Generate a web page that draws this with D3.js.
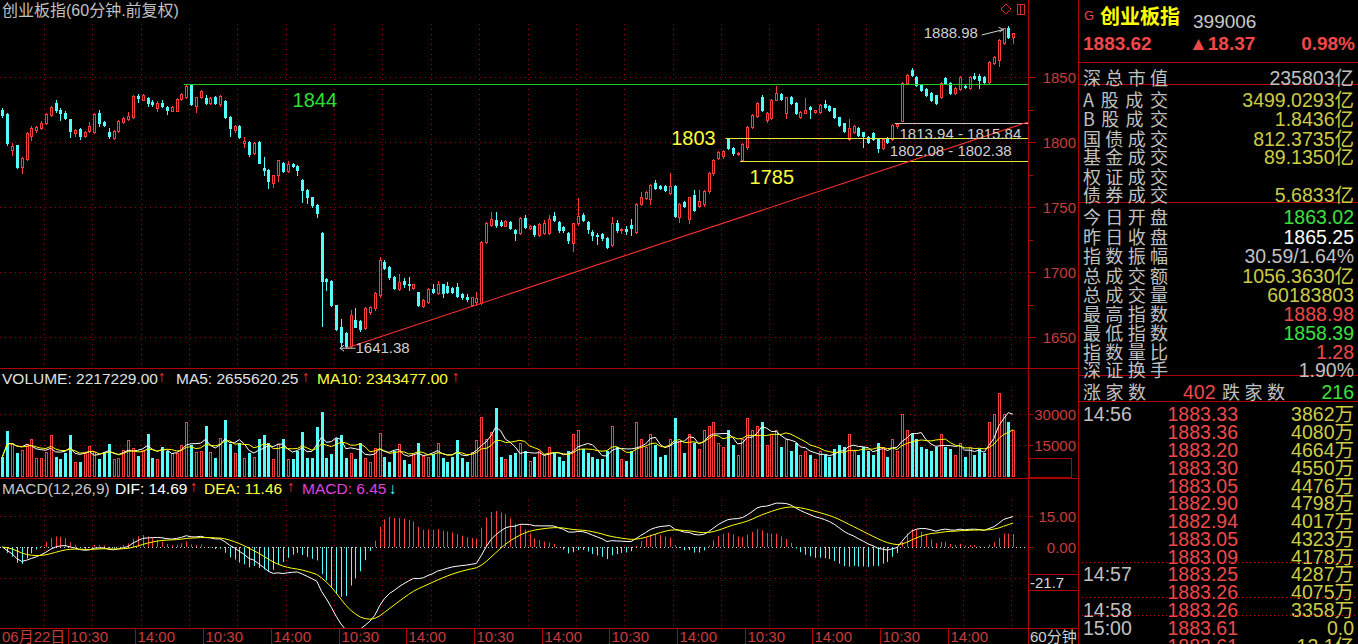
<!DOCTYPE html>
<html><head><meta charset="utf-8">
<script src="https://cdn.jsdelivr.net/npm/d3@7/dist/d3.min.js"></script>
<style>html,body{margin:0;padding:0;background:#000;overflow:hidden}svg{display:block}</style>
</head><body>
<svg id="chart" width="1358" height="644"></svg>
<script>
// ---------------- DATA (60-minute bars) ----------------
const opens=[1824.5,1821.5,1794,1797.5,1781,1787,1805,1809,1811,1814.5,
1821,1830,1825,1822,1817.5,1807,1810,1804.5,1808.5,1807.5,
1822,1815.5,1807.5,1803,1808.5,1815.5,1817.5,1819,1835.5,1832.5,
1834,1831,1826.5,1830,1827,1824,1824,1833,1834.5,1844,
1827.5,1834.5,1834,1830,1834.5,1829,1831.5,1819,1809,1812,
1799,1800,1791.5,1800,1780,1778.5,1768.5,1774.5,1784,1777.5,
1783,1781.5,1771,1763,1757.5,1751.5,1730,1694.5,1693,1674.5,
1658,1653,1643,1663,1662,1657,1669,1672,1682,1707.5,
1704,1696,1687,1693,1691,1688,1684.5,1674,1677,1687,
1683.5,1690.5,1689,1687.5,1688.5,1683,1680.5,1674.5,1677,1676,
1723,1736,1740,1738.5,1735.5,1738.5,1732,1730,1741.5,1734,
1735,1728.5,1730,1730,1743,1738.5,1734.5,1730,1722.5,1737.5,
1744,1738.5,1731,1728.5,1729,1726,1720.5,1737.5,1732,1733,
1736,1731,1752,1757,1756,1768.5,1766,1766,1761,1766,
1742.5,1754,1741,1759,1750.5,1752,1762,1776,1787.5,1789,
1802.4,1795.4,1790.8,1786,1796,1811.5,1820,1834.6,1817,1818.5,
1832.3,1837,1822.3,1834.6,1830,1819.2,1822.3,1827,1823,1823,
1829,1827.7,1826,1819,1814.6,1802.3,1807.7,1810.8,1807.7,1803.8,
1807,1802.3,1795.4,1803,1802,1812,1815.84,1845.4,1855.4,1850,
1843.8,1840.8,1837.7,1836.2,1834.6,1849.2,1845.4,1837.7,1840.8,1843.1,
1841.5,1850.8,1850.8,1850,1846.2,1860.8,1863.02,1876,1887.5,1881];
const highs=[1826,1822,1799,1798,1788.5,1808,1812,1812.5,1816,1822,
1828,1832,1826,1824,1818,1810,1811,1808.5,1815.5,1822,
1824.5,1816,1811,1809,1817,1819,1823,1836,1837,1837,
1835,1832,1831.5,1832,1828,1828,1834,1838,1844.4,1844.2,
1835,1840,1836,1835,1835.5,1836,1832,1820,1813,1813,
1804,1801,1800,1800.5,1788.5,1779,1775,1786.5,1785,1785.5,
1784,1782,1771.5,1764,1758,1752,1730.5,1695.5,1693.5,1675,
1664,1654,1670.5,1672,1663,1673,1674,1685,1711.5,1709,
1705,1697,1698.5,1695.5,1696,1691,1685,1679,1688,1691,
1693,1691,1692,1688.5,1691.5,1684,1683,1681,1684.5,1724,
1738.5,1746,1746,1740,1740,1739.5,1733,1742.5,1744,1736,
1736,1738,1740,1744,1746,1739.5,1735,1731,1738,1757,
1745.5,1739,1732,1730,1730,1727,1742,1740,1734,1735,
1741,1753,1761.5,1762.5,1768,1771,1767,1767,1776,1767,
1753,1755,1758,1763,1763,1763,1777,1787,1793,1794,
1803,1796,1792,1799,1812,1821.5,1831,1836,1823,1833,
1843,1838,1835,1835.5,1830.5,1823.5,1834,1827.5,1825,1829,
1832.3,1828.5,1826.5,1819.5,1815,1817.7,1813,1811.5,1808,1804.5,
1808,1803,1803,1803.5,1813.5,1813.94,1846,1852,1857,1850.5,
1844.5,1841.5,1838.5,1836.5,1846,1850,1846,1842,1850.5,1845,
1850.8,1853,1852,1851,1862,1866.5,1879,1888,1888.98,1884];
const lows=[1819,1798,1790,1780,1776,1786,1801.5,1808,1810,1814,
1820,1823,1817,1818,1804,1805,1802,1803.5,1808,1807,
1812.5,1812,1803,1802.5,1808,1815,1817,1818.5,1831,1832,
1827.5,1828,1824,1827,1821.5,1823.5,1823.5,1832.5,1834,1828.5,
1823,1834,1829,1829,1829,1828,1818.5,1804.5,1808,1803,
1796,1789,1791,1783.5,1774.5,1764.5,1765.5,1770,1777,1777,
1781,1774.5,1754,1753,1750,1742.5,1658.5,1686,1674,1655.5,
1643,1641.38,1642,1657.5,1655,1656.5,1668,1671,1681,1702,
1695,1687,1686,1688.5,1686,1687,1674,1673,1676.5,1684,
1683,1680.5,1684,1684,1681,1679,1677.5,1674,1674.5,1675.5,
1722.5,1735,1734.5,1735,1735,1733,1724.5,1729.5,1734,1733,
1727.5,1728,1729.5,1729.5,1739,1731,1731,1722.5,1716,1736.5,
1739,1730,1724.5,1721.5,1725,1718.5,1720,1731,1730,1729,
1728.5,1730,1751.5,1756,1752.5,1764,1763.5,1762,1760,1742.5,
1738.5,1750,1738,1747,1750,1751,1761,1775,1787,1788,
1795,1790,1790,1785.4,1795,1811,1819,1824,1815.4,1818,
1832,1832.5,1818.5,1829,1821.5,1818.5,1822,1818.5,1822.5,1822.5,
1826.5,1824,1818.5,1812.5,1808,1801.5,1807,1805,1796.2,1799,
1801.5,1792.3,1795,1799,1801.5,1810.5,1815.84,1845,1851,1843,
1839.5,1835.5,1831.5,1829.2,1834,1845,1837,1837,1840,1841.5,
1841,1848.5,1841.5,1845.5,1845.5,1860,1858.39,1875.5,1880,1876];
const closes=[1821,1799,1797,1781,1788,1807,1811,1811.5,1815,1821.5,
1827,1825,1822,1818.5,1808.5,1809,1804.5,1807.5,1812.5,1821.5,
1814.5,1813,1804.5,1808.5,1816,1818.5,1820,1835.5,1834,1836,
1830,1829,1830,1827.5,1824.5,1827,1833,1837,1843,1829,
1834.5,1839,1830,1834,1830,1835.5,1819,1811,1812,1804,
1801,1791,1799,1784,1778.5,1770,1774.5,1786,1777.5,1783,
1781.5,1778.5,1763,1757.5,1751.5,1745.5,1693,1693,1674.5,1656,
1646,1643,1667,1658,1656,1672,1673,1684,1709,1703,
1696,1688,1692.5,1691,1690,1690.5,1674.5,1678.5,1687,1684.5,
1690.5,1683.5,1685,1684.5,1681.5,1680.5,1679,1680.5,1680,1723,
1737.5,1740.5,1736,1736,1739,1734,1730,1741.5,1734.5,1735,
1729,1737,1737.5,1740.5,1740,1732,1732,1724.5,1737.5,1743,
1740,1733,1728.5,1728,1726,1719,1737.5,1732,1733,1731.5,
1734,1752,1757.5,1761.5,1767,1764.5,1764.5,1763,1766,1743,
1752,1751,1757.5,1748,1754.5,1762,1776,1786,1792,1793,
1795.5,1791.5,1791.5,1798.5,1811.5,1820.8,1830,1824.6,1822.3,1832.3,
1837.7,1833,1834.6,1830,1822.3,1823,1824.6,1825.4,1824.6,1828.5,
1827,1824.6,1819,1813,1808.5,1810.8,1812.3,1805.4,1804.6,1800,
1802.3,1795.4,1802.3,1800,1813,1813.5,1845.4,1851.5,1851.5,1843.8,
1840,1836.2,1832.3,1830,1845.4,1845.4,1837.7,1841.5,1850,1842.3,
1850,1849.2,1847.7,1846.2,1861.5,1865.25,1878.5,1887.7,1881,1883.62];
// volume in hundreds (axis X100)
const volumes=[9270,21600,15700,10900,12480,15200,17760,8800,8800,11360,
19680,9270,8160,10900,19680,6560,6560,10900,14560,11360,
8160,11360,15200,8160,8800,12480,17280,13280,9760,12480,
20000,8800,8160,14080,12000,10900,10900,14880,25760,14880,
11360,12000,24000,11360,8480,18400,26880,15200,10900,15700,
8480,10900,9270,17760,19680,15700,8160,15200,17760,8160,
8160,12000,21280,8800,8800,23680,30880,8800,10400,18080,
19680,8480,10900,8160,15700,8800,6880,13280,20480,9270,
6880,12000,15200,7680,5600,10400,15700,9760,9270,10400,
15700,8480,6880,9270,17280,8480,6880,11360,17280,28480,
17760,21280,32480,9000,8000,10000,11000,16000,12000,7000,
9000,12000,10000,14000,11000,9000,7000,12000,20000,22000,
13000,11000,9000,8000,8000,12000,24000,14000,8000,7000,
12000,26000,18000,14000,20000,15000,9000,10000,18000,28000,
17000,11000,20000,16000,13000,22000,24000,26000,16000,14000,
22000,15000,10000,18000,28000,22000,24000,26000,15000,20000,
22000,14000,18000,12000,16000,10000,12000,10000,8000,12000,
10000,9000,13000,15000,14000,20000,12000,10000,14000,12000,
10000,16000,14000,9000,18000,12000,30000,22000,20000,18000,
14000,13000,12000,14000,20000,14000,13000,10000,16000,9000,
14000,10000,13000,11000,26000,30000,40000,30000,26000,22172];
const xTickLabels=["06月22日","10:30","14:00","10:30","14:00","10:30","14:00","10:30","14:00","10:30","14:00","10:30","14:00","10:30","14:00"];
const priceTicks=[1650,1700,1750,1800,1850];
const priceMinor=[1675,1725,1775,1825];
const volTicks=[15000,30000];
const macdTicks=[15,0,-15];
// annotations (bar index, price)
const levelLines=[{v:1844.4,from:38,kind:"green"},{v:1802.8,from:150,kind:"yellow"},{v:1785.4,from:153,kind:"yellow"},{v:1814.6,from:185,kind:"grey"}];
const trendPts=[[71,1641.38],[212.1,1815.4]];
// right info panel
const infoLabels1=["深总市值","A股成交","B股成交","国债成交","基金成交","权证成交","债券成交"];
const infoValues1=["235803亿","3499.0293亿","1.8436亿","812.3735亿","89.1350亿","","5.6833亿"];
const infoLabels2=["今日开盘","昨日收盘","指数振幅","总成交额","总成交量","最高指数","最低指数","指数量比","深证换手"];
const infoValues2=["1863.02","1865.25","30.59/1.64%","1056.3630亿","60183803","1888.98","1858.39","1.28","1.90%"];
const tickTimes=["14:56","","","","","","","","","14:57","","14:58","15:00",""];
const tickPrices=["1883.33","1883.36","1883.20","1883.30","1883.05","1882.90","1882.94","1883.05","1883.09","1883.25","1883.26","1883.26","1883.61","1883.61"];
const tickVols=["3862万","4080万","4664万","4550万","4476万","4798万","4017万","4323万","4178万","4287万","4075万","3358万","0.0","13.1亿"];

// ---------------- DRAW ----------------
const svg=d3.select('#chart');
const LAT='"Liberation Sans", Arial, sans-serif';
const CJK='"Liberation Sans","Noto Sans CJK SC", sans-serif';
const C={red:'#ff3c3c',cyan:'#54fcfc',axis:'#b00000',axisText:'#c83c3c',grid:'#a00000'};
svg.append('rect').attr('width',1358).attr('height',644).attr('fill','#000');

const N=closes.length;
const x=d3.scaleLinear().domain([0,N]).range([0,1015.6]);
const cx=i=>x(i+0.5);
const px=i=>Math.round(cx(i));
const yP=d3.scaleLinear().domain([1650,1850]).range([337,77]);
const yV=d3.scaleLinear().domain([0,30000]).range([476,413.5]);
const yM=d3.scaleLinear().domain([-15,15]).range([578,516]);

const defs=svg.append('defs');
function clip(id,a,b,w,h){defs.append('clipPath').attr('id',id).append('rect').attr('x',a).attr('y',b).attr('width',w).attr('height',h);}
clip('cp',0,0,1028,368);clip('cv',0,388,1028,90);clip('cm',0,498,1028,130);clip('cl',1028,560,50,14);

// grid
const grid=svg.append('g').attr('stroke',C.grid).attr('stroke-width',1).attr('stroke-dasharray','1,4');
d3.range(9,N,10).forEach(i=>{
  const gx=px(i)-1.5;
  [[24,368],[390,478],[500,628]].forEach(([a,b])=>grid.append('line').attr('x1',gx).attr('x2',gx).attr('y1',a).attr('y2',b));
});
priceTicks.forEach(t=>{const yy=Math.round(yP(t))+0.5;grid.append('line').attr('x1',0).attr('x2',1028).attr('y1',yy).attr('y2',yy);});
volTicks.forEach(t=>{const yy=Math.round(yV(t))+0.5;grid.append('line').attr('x1',0).attr('x2',1028).attr('y1',yy).attr('y2',yy);});
[15,-15].forEach(t=>{const yy=Math.round(yM(t))+0.5;grid.append('line').attr('x1',0).attr('x2',1028).attr('y1',yy).attr('y2',yy);});
svg.append('line').attr('x1',0).attr('x2',1028).attr('y1',Math.round(yM(0))+0.5).attr('y2',Math.round(yM(0))+0.5)
  .attr('stroke','#d0d0d0').attr('stroke-dasharray','1,3');

// candles
const cg=svg.append('g').attr('clip-path','url(#cp)');
function bar(g,i,top,bot,up,col){
  const X=px(i);
  if(up && bot-top>=2){
    g.append('rect').attr('x',X-0.5).attr('y',top+0.5).attr('width',2).attr('height',bot-top-1).attr('fill','#000').attr('stroke',col).attr('stroke-width',1);
  } else {
    g.append('rect').attr('x',X-1).attr('y',top).attr('width',3).attr('height',Math.max(1,bot-top)).attr('fill',col);
  }
}
d3.range(N).forEach(i=>{
  const o=opens[i],c=closes[i],h=highs[i],l=lows[i];
  const up=c>=o, col=up?C.red:C.cyan, X=px(i)+0.5;
  const yT=Math.round(yP(Math.max(o,c))), yB=Math.round(yP(Math.min(o,c)))+1;
  const yH=Math.round(yP(h)), yL=Math.round(yP(l))+1;
  if(up){
    if(yT>yH) cg.append('line').attr('x1',X).attr('x2',X).attr('y1',yH).attr('y2',yT).attr('stroke',col);
    if(yL>yB) cg.append('line').attr('x1',X).attr('x2',X).attr('y1',yB).attr('y2',yL).attr('stroke',col);
  } else {
    cg.append('line').attr('x1',X).attr('x2',X).attr('y1',yH).attr('y2',yL).attr('stroke',col);
  }
  bar(cg,i,yT,yB,up,col);
});

// level lines & trend
const lineCol={green:'#22cc22',yellow:'#e8e83a',grey:'#c8c8c8'};
levelLines.forEach(d=>{const yy=Math.round(yP(d.v))+0.5;
  cg.append('line').attr('x1',x(d.from)).attr('x2',1028).attr('y1',yy).attr('y2',yy).attr('stroke',lineCol[d.kind]).attr('stroke-width',1);});
cg.append('path').attr('d',d3.line().x(d=>cx(d[0])).y(d=>yP(d[1]))(trendPts)).attr('stroke','#ff3030').attr('stroke-width',1.1).attr('fill','none');

// annotation text
const ann=svg.append('g').attr('font-family',LAT);
ann.append('text').attr('x',cx(60)).attr('y',yP(1832.3)+7).attr('font-size',20).attr('fill','#2ee02e').text('1844');
ann.append('text').attr('x',x(148)).attr('y',yP(1803)+7).attr('font-size',20).attr('fill','#ffff3c').attr('text-anchor','end').text('1803');
ann.append('text').attr('x',x(155)).attr('y',yP(1773)+7).attr('font-size',20).attr('fill','#ffff3c').text('1785');
ann.append('text').attr('x',x(186)).attr('y',yP(1806.2)+5).attr('font-size',15).attr('fill','#d0d0d0').text('1813.94 - 1815.84');
ann.append('text').attr('x',x(184)).attr('y',yP(1793.1)+5).attr('font-size',15).attr('fill','#d0d0d0').text('1802.08 - 1802.38');
ann.append('text').attr('x',x(191)).attr('y',yP(1883.8)+5).attr('font-size',15).attr('fill','#d0d0d0').text('1888.98');
ann.append('path').attr('d',`M${x(203)},${yP(1882.3)} L${cx(207)},${yP(1886.5)} M${cx(207)-5},${yP(1888.3)} L${cx(207)},${yP(1886.5)} L${cx(207)-4},${yP(1884.8)}`).attr('stroke','#d0d0d0').attr('fill','none');
ann.append('text').attr('x',cx(73)).attr('y',yP(1641.38)+5).attr('font-size',15).attr('fill','#d0d0d0').text('1641.38');
ann.append('path').attr('d',`M${cx(73)},${yP(1641.38)} L${cx(70)-1},${yP(1641.38)} M${cx(70)+3},${yP(1641.38)-3} L${cx(70)-1},${yP(1641.38)} L${cx(70)+3},${yP(1641.38)+3}`).attr('stroke','#d0d0d0').attr('fill','none');
// icons top right
svg.append('path').attr('d','M1006,4 L1011,9 L1006,14 L1001,9 Z').attr('stroke','#d03030').attr('fill','none');
svg.append('rect').attr('x',1017.5).attr('y',4.5).attr('width',7).attr('height',10).attr('stroke','#d03030').attr('fill','none');
svg.append('line').attr('x1',1020.5).attr('x2',1020.5).attr('y1',4).attr('y2',15).attr('stroke','#d03030');

// volume
const vg=svg.append('g').attr('clip-path','url(#cv)');
d3.range(N).forEach(i=>{
  const up=closes[i]>=opens[i];
  bar(vg,i,Math.round(yV(volumes[i])),477,up,up?C.red:C.cyan);
});
function ma(arr,n){return arr.map((v,i)=>{const s=arr.slice(Math.max(0,i-n+1),i+1);return d3.mean(s);});}
const ma5=ma(volumes,5), ma10=ma(volumes,10);
const vl=d3.line().x((d,i)=>cx(i)).y(d=>yV(d));
vg.append('path').attr('d',vl(ma5)).attr('stroke','#ffffff').attr('fill','none').attr('stroke-width',1);
vg.append('path').attr('d',vl(ma10)).attr('stroke','#ffff00').attr('fill','none').attr('stroke-width',1);

// MACD (12,26,9) from closes
function ema(arr,n){const k=2/(n+1);const out=[];arr.forEach((v,i)=>out.push(i===0?v:out[i-1]+k*(v-out[i-1])));return out;}
const e12=ema(closes,12), e26=ema(closes,26);
const dif=closes.map((c,i)=>e12[i]-e26[i]);
const dea=ema(dif,9);
const hist=dif.map((d,i)=>2*(d-dea[i]));
const mg=svg.append('g').attr('clip-path','url(#cm)');
hist.forEach((h,i)=>{const X=px(i)+0.5;
  mg.append('line').attr('x1',X).attr('x2',X).attr('y1',yM(0)).attr('y2',yM(h)).attr('stroke',h>=0?C.red:C.cyan).attr('stroke-width',1);});
const ml=d3.line().x((d,i)=>cx(i)).y(d=>yM(d));
mg.append('path').attr('d',ml(dif)).attr('stroke','#ffffff').attr('fill','none');
mg.append('path').attr('d',ml(dea)).attr('stroke','#ffff00').attr('fill','none');

// borders
const bd=svg.append('g').attr('stroke',C.axis).attr('stroke-width',1);
bd.append('line').attr('x1',1028.5).attr('x2',1028.5).attr('y1',0).attr('y2',644);
bd.append('line').attr('x1',1078.5).attr('x2',1078.5).attr('y1',0).attr('y2',644);
[368.5,478.5,628.5].forEach(yy=>bd.append('line').attr('x1',0).attr('x2',1078).attr('y1',yy).attr('y2',yy));

// axes text
const ax=svg.append('g').attr('font-family',LAT).attr('font-size',15).attr('fill',C.axisText);
priceTicks.forEach(t=>{const yy=Math.round(yP(t))+0.5;
  bd.append('line').attr('x1',1028).attr('x2',1036).attr('y1',yy).attr('y2',yy);
  ax.append('text').attr('x',1076).attr('y',yy+5).attr('text-anchor','end').text(t);});
priceMinor.forEach(t=>{const yy=Math.round(yP(t))+0.5;bd.append('line').attr('x1',1028).attr('x2',1033).attr('y1',yy).attr('y2',yy);});
volTicks.forEach(t=>{const yy=Math.round(yV(t))+0.5;
  bd.append('line').attr('x1',1028).attr('x2',1033).attr('y1',yy).attr('y2',yy);
  ax.append('text').attr('x',1076).attr('y',yy+5).attr('text-anchor','end').text(t);});
svg.append('rect').attr('x',1029.5).attr('y',458.5).attr('width',42).attr('height',19).attr('fill','#000').attr('stroke',C.axis);
ax.append('text').attr('x',1033).attr('y',474).text('X100');
macdTicks.forEach(t=>{const yy=Math.round(yM(t))+0.5;
  bd.append('line').attr('x1',1028).attr('x2',1033).attr('y1',yy).attr('y2',yy);
  const tx=ax.append('text').attr('x',1076).attr('y',yy+5).attr('text-anchor','end').text(t.toFixed(2));
  if(t<0) tx.attr('clip-path','url(#cl)');});
svg.append('rect').attr('x',1028.5).attr('y',574.5).attr('width',50).attr('height',16).attr('fill','#000').attr('stroke',C.axis);
svg.append('text').attr('x',1030).attr('y',588).attr('font-family',LAT).attr('font-size',15).attr('fill','#d8d8d8').text('-21.7');
// x axis
const xa=svg.append('g').attr('font-family',CJK).attr('font-size',15).attr('fill',C.axisText);
xTickLabels.forEach((lab,k)=>{
  const i=14*k; const xx=Math.round(x(i))+0.5;
  if(k>0) bd.append('line').attr('x1',xx).attr('x2',xx).attr('y1',629).attr('y2',644);
  xa.append('text').attr('x',k===0?2:xx+2).attr('y',642).text(lab);
});
svg.append('text').attr('x',1030).attr('y',642).attr('font-family',CJK).attr('font-size',15).attr('fill','#d0d0d0').text('60分钟');

// headers
svg.append('text').attr('x',2).attr('y',16).attr('font-family',CJK).attr('font-size',16).attr('fill','#c0c0c0').text('创业板指(60分钟.前复权)');
function seg(g,xx,yy,t,col){g.append('text').attr('x',xx).attr('y',yy).attr('fill',col).text(t);}
const vh=svg.append('g').attr('font-family',LAT).attr('font-size',15.5);
seg(vh,2,384,'VOLUME: 2217229.00','#e0e0e0');seg(vh,158,382,'↑','#ff3030');
seg(vh,176,384,'MA5: 2655620.25','#e0e0e0');seg(vh,302,382,'↑','#ff3030');
seg(vh,317,384,'MA10: 2343477.00','#ffff3c');seg(vh,452,382,'↑','#ff3030');
const mh=svg.append('g').attr('font-family',LAT).attr('font-size',15.5);
seg(mh,2,494,'MACD(12,26,9)','#c8c8c8');seg(mh,115,494,'DIF: 14.69','#ffffff');seg(mh,190,492,'↑','#ff3030');
seg(mh,204,494,'DEA: 11.46','#ffff3c');seg(mh,287,492,'↑','#ff3030');
seg(mh,302,494,'MACD: 6.45','#e040e0');seg(mh,389,494,'↓','#54fcfc');

// ---------------- INFO PANEL ----------------
const ip=svg.append('g');
const GREY='#c0c0c0',YEL='#cccc44',GRN='#3ce03c',RD='#f04848';
ip.append('text').attr('x',1084).attr('y',20).attr('font-family',LAT).attr('font-size',13).attr('fill',RD).text('G');
ip.append('text').attr('x',1100).attr('y',24).attr('font-family','"Noto Sans CJK SC"').attr('font-weight','bold').attr('font-size',20).attr('fill','#ffff00').text('创业板指');
ip.append('text').attr('x',1193).attr('y',28).attr('font-family',LAT).attr('font-size',19).attr('fill','#c8c8c8').text('399006');
ip.append('text').attr('x',1083).attr('y',50).attr('font-family',LAT).attr('font-weight','bold').attr('font-size',19).attr('fill',RD).text('1883.62');
ip.append('text').attr('x',1189).attr('y',50).attr('font-family',CJK).attr('font-weight','bold').attr('font-size',19).attr('fill',RD).text('▲18.37');
ip.append('text').attr('x',1355).attr('y',50).attr('text-anchor','end').attr('font-family',LAT).attr('font-weight','bold').attr('font-size',19).attr('fill',RD).text('0.98%');
[62.5,84.5,202.5,375.5,401.5].forEach(yy=>ip.append('line').attr('x1',1078).attr('x2',1358).attr('y1',yy).attr('y2',yy).attr('stroke',C.axis));
function lab(t,xx,yy,w){const el=ip.append('text').attr('x',xx).attr('y',yy).attr('font-family','"Noto Sans CJK SC"').attr('font-size',18).attr('fill',GREY).text(t);if(w)el.attr('textLength',w).attr('lengthAdjust','spacing');}
function val(t,xx,yy,col,anchor){ip.append('text').attr('x',xx).attr('y',yy).attr('text-anchor',anchor||'end').attr('font-family',CJK).attr('font-size',19.5).attr('fill',col).text(t);}
const rows1=[78,100,119,139,157,177,195];
infoLabels1.forEach((t,k)=>{lab(t,1083,rows1[k]+7,85);val(infoValues1[k],1354,rows1[k]+7,k===0?GREY:YEL);});
const rows2=[217,237,256,276,295,314,333,352,370];
const col2=[GRN,'#ffffff',GREY,YEL,YEL,RD,GRN,RD,GREY];
infoLabels2.forEach((t,k)=>{lab(t,1083,rows2[k]+7,85);val(infoValues2[k],1354,rows2[k]+7,col2[k]);});
lab('涨家数',1083,399,63);val('402',1183,399,RD,'start');lab('跌家数',1222,399,63);val('216',1354,399,GRN);
// tick list
const rows3=[414,432,450,468,486,503,521,539,557,574,592,610,628,646];
tickPrices.forEach((p,k)=>{
  const yy=rows3[k]+7;
  if(tickTimes[k]) val(tickTimes[k],1083,yy,GREY,'start');
  val(p,1238,yy,RD);
  val(tickVols[k],1354,yy,YEL);
});
[562.5,597.5,615.5].forEach(yy=>ip.append('line').attr('x1',1078).attr('x2',1358).attr('y1',yy).attr('y2',yy).attr('stroke',C.axis).attr('stroke-dasharray','1,3'));
</script>
</body></html>
